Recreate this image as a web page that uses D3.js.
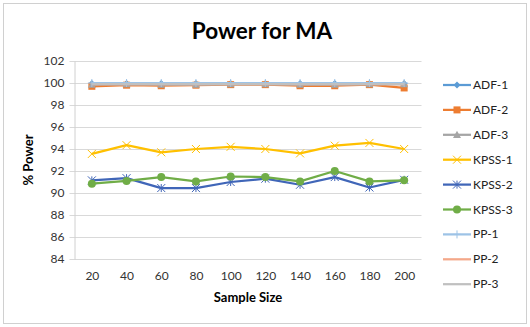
<!DOCTYPE html>
<html>
<head>
<meta charset="utf-8">
<script src="https://cdn.jsdelivr.net/npm/d3@7"></script>
<style>
  body { margin: 0; background: #fff; }
  svg { display: block; font-family: Lato, 'Open Sans', sans-serif; }
</style>
</head>
<body>
<svg id="chart" width="530" height="327"></svg>
<script>
// Data
const sampleSizes = [20, 40, 60, 80, 100, 120, 140, 160, 180, 200];
const yTicks = [84, 86, 88, 90, 92, 94, 96, 98, 100, 102];

const adf1 = [99.95, 99.95, 99.95, 99.95, 99.95, 99.95, 99.95, 99.95, 99.95, 99.95];
const adf2 = [99.7, 99.8, 99.75, 99.8, 99.85, 99.85, 99.75, 99.75, 99.85, 99.55];
const adf3 = [99.85, 99.9, 99.85, 99.85, 99.9, 99.9, 99.85, 99.85, 99.9, 99.9];
const kpss1 = [93.55, 94.35, 93.7, 94.0, 94.2, 94.0, 93.6, 94.3, 94.55, 94.0];
const kpss2 = [91.15, 91.35, 90.45, 90.45, 91.0, 91.3, 90.75, 91.45, 90.5, 91.2];
const kpss3 = [90.85, 91.1, 91.45, 91.05, 91.5, 91.45, 91.05, 92.0, 91.05, 91.15];
const pp1 = [100, 100, 100, 100, 100, 100, 100, 100, 100, 100];
const pp2 = [99.9, 99.9, 99.9, 99.9, 99.9, 99.9, 99.9, 99.9, 99.9, 99.9];
const pp3 = [99.9, 99.9, 99.9, 99.9, 99.9, 99.9, 99.9, 99.9, 99.9, 99.9];

const series = [
  { name: 'ADF-1', values: adf1, color: '#5b9bd5', marker: 'diamond' },
  { name: 'ADF-2', values: adf2, color: '#ed7d31', marker: 'square' },
  { name: 'ADF-3', values: adf3, color: '#a5a5a5', marker: 'triangle' },
  { name: 'KPSS-1', values: kpss1, color: '#ffc000', marker: 'x' },
  { name: 'KPSS-2', values: kpss2, color: '#4066b8', marker: 'star' },
  { name: 'KPSS-3', values: kpss3, color: '#70ad47', marker: 'circle' },
  { name: 'PP-1', values: pp1, color: '#9dc3e6', marker: 'plus' },
  { name: 'PP-2', values: pp2, color: '#f4a88a', marker: 'none' },
  { name: 'PP-3', values: pp3, color: '#c0c0c0', marker: 'none' }
];

const svg = d3.select('#chart');

// chart border
svg.append('rect')
  .attr('x', 3.5).attr('y', 3.5)
  .attr('width', 523).attr('height', 320)
  .attr('fill', '#fff')
  .attr('stroke', '#d0d0d0');

const plot = { left: 74.5, right: 421.5, top: 61, bottom: 259 };

const x = d3.scalePoint()
  .domain(sampleSizes)
  .range([plot.left, plot.right])
  .padding(0.5);

const y = d3.scaleLinear()
  .domain([84, 102])
  .range([plot.bottom, plot.top]);

// gridlines
svg.append('g')
  .selectAll('line')
  .data(yTicks)
  .join('line')
  .attr('x1', plot.left - 5).attr('x2', plot.right)
  .attr('y1', d => Math.round(y(d)) + 0.5)
  .attr('y2', d => Math.round(y(d)) + 0.5)
  .attr('stroke', '#d9d9d9');

// y axis
const yAxis = svg.append('g')
  .attr('transform', `translate(${plot.left},0)`)
  .call(d3.axisLeft(y).tickValues(yTicks).tickSize(0).tickPadding(10));
yAxis.select('.domain').attr('stroke', '#d0d0d0');
yAxis.selectAll('text')
  .attr('font-size', 12).attr('fill', '#333')
  .attr('font-family', 'Lato, sans-serif');

// x axis (labels only)
const xAxis = svg.append('g')
  .attr('transform', `translate(0,${plot.bottom})`)
  .call(d3.axisBottom(x).tickSize(0).tickPadding(12));
xAxis.select('.domain').remove();
xAxis.selectAll('text')
  .attr('font-size', 12).attr('fill', '#333')
  .attr('font-family', 'Lato, sans-serif');

// titles
svg.append('text')
  .attr('x', 262).attr('y', 39)
  .attr('text-anchor', 'middle')
  .attr('font-size', 22.5).attr('font-weight', 'bold')
  .attr('fill', '#000')
  .text('Power for MA');

svg.append('text')
  .attr('x', (plot.left + plot.right) / 2).attr('y', 302)
  .attr('text-anchor', 'middle')
  .attr('font-size', 13).attr('font-weight', 'bold')
  .attr('fill', '#000')
  .text('Sample Size');

svg.append('text')
  .attr('transform', `translate(33,${(plot.top + plot.bottom) / 2}) rotate(-90)`)
  .attr('text-anchor', 'middle')
  .attr('font-size', 13).attr('font-weight', 'bold')
  .attr('fill', '#000')
  .text('% Power');

// marker drawing helper
function drawMarker(g, type, color, size) {
  const s = size;
  if (type === 'diamond') {
    g.append('path').attr('d', `M0,${-s}L${s},0L0,${s}L${-s},0Z`).attr('fill', color);
  } else if (type === 'square') {
    g.append('rect').attr('x', -s).attr('y', -s).attr('width', 2 * s).attr('height', 2 * s).attr('fill', color);
  } else if (type === 'triangle') {
    g.append('path').attr('d', `M0,${-s}L${s},${s * 0.8}L${-s},${s * 0.8}Z`).attr('fill', color);
  } else if (type === 'circle') {
    g.append('circle').attr('r', s).attr('fill', color);
  } else if (type === 'x') {
    g.append('path').attr('d', `M${-s},${-s}L${s},${s}M${-s},${s}L${s},${-s}`).attr('stroke', color).attr('stroke-width', 1);
  } else if (type === 'star') {
    g.append('path').attr('d', `M${-s},${-s}L${s},${s}M${-s},${s}L${s},${-s}M0,${-s}L0,${s}`).attr('stroke', color).attr('stroke-width', 1);
  } else if (type === 'plus') {
    g.append('path').attr('d', `M${-s},0L${s},0M0,${-s}L0,${s}`).attr('stroke', color).attr('stroke-width', 1);
  }
}

const markerSize = { diamond: 3.5, square: 3.5, triangle: 4, circle: 4, x: 4, star: 4, plus: 4, none: 0 };

const line = d3.line()
  .x((d, i) => x(sampleSizes[i]))
  .y(d => y(d));

// draw series in order
series.forEach(s => {
  svg.append('path')
    .datum(s.values)
    .attr('fill', 'none')
    .attr('stroke', s.color)
    .attr('stroke-width', 2.25)
    .attr('stroke-linejoin', 'round')
    .attr('d', line);

  if (s.marker !== 'none') {
    s.values.forEach((v, i) => {
      const g = svg.append('g').attr('transform', `translate(${x(sampleSizes[i])},${y(v)})`);
      drawMarker(g, s.marker, s.color, markerSize[s.marker]);
    });
  }
});

// legend
const legend = svg.append('g').attr('transform', 'translate(443,85)');
series.forEach((s, i) => {
  const g = legend.append('g').attr('transform', `translate(0,${i * 24.9})`);
  g.append('line')
    .attr('x1', 0).attr('x2', 28)
    .attr('stroke', s.color).attr('stroke-width', 2.25);
  if (s.marker !== 'none') {
    drawMarker(g.append('g').attr('transform', 'translate(14,0)'), s.marker, s.color, markerSize[s.marker]);
  }
  g.append('text')
    .attr('x', 30).attr('y', 4)
    .attr('font-size', 12).attr('fill', '#222')
    .text(s.name);
});
</script>
</body>
</html>
